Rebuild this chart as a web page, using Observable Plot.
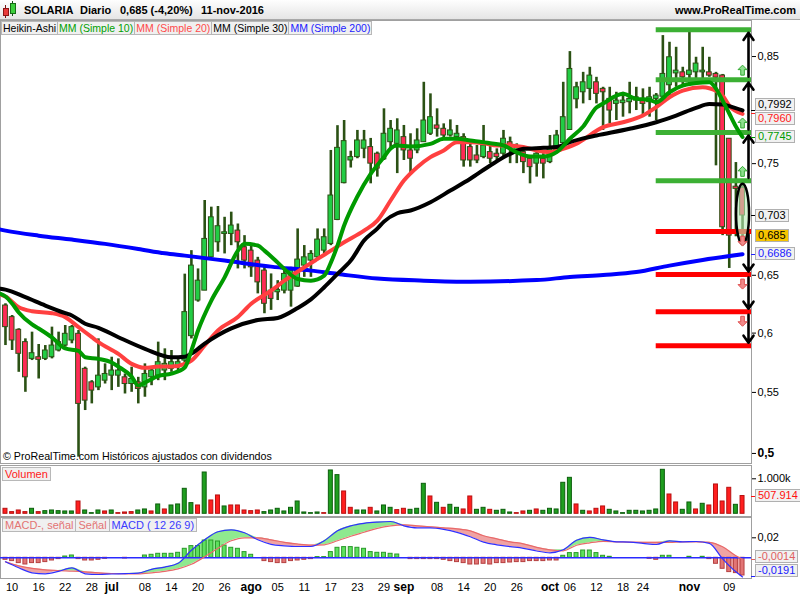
<!DOCTYPE html>
<html>
<head>
<meta charset="utf-8">
<script src="https://cdn.jsdelivr.net/npm/d3@7"></script>
<script src="https://cdn.jsdelivr.net/npm/@observablehq/plot@0.6"></script>
<style>
  html,body{margin:0;padding:0;background:#fff;}
  #wrap{position:relative;width:800px;height:600px;overflow:hidden;background:#fff;font-family:"Liberation Sans",Arial,Helvetica,sans-serif;color:#000;}
  #wrap svg{overflow:visible;}
  .t{position:absolute;white-space:nowrap;font-size:11px;line-height:12px;}
  .box{position:absolute;white-space:nowrap;font-size:11px;line-height:11px;height:11px;padding:0 2px;background:#f1f1f1;border:1px solid #b0b0b0;}
  .dash{position:absolute;height:1px;width:4px;}
  .leg{display:flex;position:absolute;}
  .leg span{font-size:10.5px;line-height:12px;height:12px;padding:0 1px;background:#f0f0f0;border:1px solid #b8b8b8;margin-right:-1px;white-space:nowrap;}
  .leg.big span{font-size:11px;padding:0 2px;}
</style>
</head>
<body>
<div id="wrap"></div>
<script>
// ------------------------------------------------------------------ DATA
// Heikin-Ashi candles, one per trading day (9-jun-2016 .. 11-nov-2016)
const haOpen = [0.6237,0.6137,0.6028,0.5923,0.5781,0.5795,0.5781,0.5795,0.5852,0.5894,
0.5937,0.5994,0.5697,0.5584,0.5542,0.5598,0.5640,0.5640,0.5626,0.5570,
0.5584,0.5542,0.5626,0.5640,0.5683,0.5697,0.5711,0.5767,0.5974,0.6280,
0.6366,0.6658,0.6791,0.6865,0.6865,0.6895,0.6747,0.6717,0.6629,0.6541,
0.6366,0.6352,0.6366,0.6366,0.6401,0.6585,0.6629,0.6658,0.6717,0.6776,
0.6990,0.7322,0.7529,0.7560,0.7637,0.7652,0.7591,0.7540,0.7697,0.7682,
0.7744,0.7621,0.7621,0.7697,0.7775,0.7852,0.7821,0.7759,0.7744,0.7744,
0.7652,0.7575,0.7560,0.7606,0.7591,0.7591,0.7697,0.7606,0.7606,0.7545,
0.7500,0.7545,0.7514,0.7621,0.7690,0.7810,0.8096,0.8162,0.8194,0.8256,
0.8194,0.8100,0.8053,0.8060,0.8069,0.8084,0.8084,0.8069,0.8100,0.8120,
0.8228,0.8340,0.8350,0.8326,0.8350,0.8350,0.8350,0.8335,0.8320,0.7729,
0.7290,0.7280];
const haHigh = [0.6252,0.6151,0.6037,0.5951,0.6008,0.5903,0.5894,0.6051,0.6008,0.6065,
0.6065,0.6022,0.5711,0.5598,0.5951,0.5739,0.5795,0.5781,0.5654,0.5711,
0.5626,0.5739,0.5697,0.5923,0.5866,0.5852,0.5795,0.6510,0.6717,0.6556,
0.7165,0.7105,0.7111,0.7014,0.7060,0.6954,0.6850,0.6762,0.6658,0.6585,
0.6512,0.6453,0.6556,0.6570,0.6910,0.6762,0.6717,0.6910,0.6910,0.7621,
0.7850,0.7898,0.7614,0.7806,0.7806,0.7732,0.7606,0.8007,0.7898,0.7914,
0.7852,0.7775,0.7821,0.8256,0.8147,0.8007,0.7867,0.7904,0.7852,0.7775,
0.7713,0.7667,0.7852,0.7682,0.7636,0.7806,0.7744,0.7682,0.7652,0.7575,
0.7636,0.7591,0.7759,0.7806,0.8256,0.8547,0.8256,0.8350,0.8398,0.8303,
0.8209,0.8209,0.8162,0.8162,0.8256,0.8209,0.8194,0.8209,0.8150,0.8700,
0.8636,0.8588,0.8398,0.8732,0.8493,0.8588,0.8493,0.8350,0.8330,0.7729,
0.7510,0.7330];
const haLow = [0.5894,0.5852,0.5668,0.5501,0.5767,0.5612,0.5767,0.5781,0.5840,0.5880,
0.5909,0.4970,0.5350,0.5405,0.5515,0.5570,0.5515,0.5542,0.5487,0.5501,
0.5405,0.5460,0.5556,0.5598,0.5598,0.5668,0.5683,0.5711,0.5950,0.6266,
0.6366,0.6658,0.6703,0.6688,0.6761,0.6556,0.6556,0.6482,0.6338,0.6166,
0.6195,0.6280,0.6338,0.6223,0.6395,0.6482,0.6482,0.6629,0.6688,0.6761,
0.6984,0.7316,0.7460,0.7545,0.7545,0.7316,0.7377,0.7529,0.7621,0.7409,
0.7529,0.7409,0.7591,0.7697,0.7759,0.7744,0.7729,0.7744,0.7713,0.7468,
0.7468,0.7500,0.7545,0.7500,0.7529,0.7560,0.7500,0.7500,0.7409,0.7316,
0.7377,0.7361,0.7500,0.7591,0.7682,0.7806,0.8007,0.8053,0.8084,0.8053,
0.7806,0.7867,0.7898,0.7929,0.7960,0.7991,0.7944,0.7929,0.7898,0.8115,
0.8115,0.8209,0.8225,0.8225,0.8241,0.8272,0.8303,0.7480,0.6850,0.6560,
0.6840,0.6760];
const haClose = [0.6051,0.5937,0.5824,0.5626,0.5829,0.5773,0.5852,0.5894,0.5923,0.5994,
0.6051,0.5405,0.5432,0.5515,0.5640,0.5654,0.5683,0.5683,0.5570,0.5612,
0.5529,0.5654,0.5683,0.5753,0.5739,0.5753,0.5753,0.6180,0.6585,0.6453,
0.6821,0.7014,0.6934,0.6880,0.6940,0.6791,0.6629,0.6570,0.6438,0.6252,
0.6294,0.6372,0.6512,0.6541,0.6638,0.6658,0.6688,0.6815,0.6836,0.7210,
0.7645,0.7707,0.7560,0.7713,0.7713,0.7500,0.7455,0.7775,0.7821,0.7806,
0.7621,0.7545,0.7713,0.7898,0.7929,0.7821,0.7759,0.7806,0.7775,0.7529,
0.7529,0.7529,0.7667,0.7545,0.7560,0.7729,0.7636,0.7652,0.7514,0.7468,
0.7591,0.7500,0.7652,0.7759,0.7929,0.8382,0.8209,0.8256,0.8319,0.8147,
0.8162,0.7991,0.8084,0.8084,0.8100,0.8115,0.8053,0.8115,0.8131,0.8335,
0.8493,0.8366,0.8303,0.8366,0.8433,0.8366,0.8319,0.8300,0.6925,0.6850,
0.7270,0.7030];

// Volume in thousands of shares, and direction of the day (1 up, 0 down)
const volumeK = [143,48,95,48,143,48,76,95,76,67,
67,352,95,19,95,67,95,19,38,48,
95,124,67,267,124,238,267,714,305,238,
1180,381,524,210,238,238,95,76,95,48,
95,143,67,171,352,38,19,38,19,1238,
1105,638,171,95,95,171,67,238,171,105,
143,114,143,857,495,314,171,257,171,124,
495,114,171,114,86,114,38,19,67,86,
124,86,143,124,886,1028,267,86,67,143,
210,114,67,19,86,86,67,86,124,1257,
552,324,114,324,124,286,238,838,352,743,
257,507.914];
const volumeUp = [0,0,0,0,1,0,1,1,1,1,
1,0,1,1,1,0,1,0,0,0,
1,1,0,1,0,1,1,1,1,0,
1,0,0,1,0,0,0,0,0,1,
1,1,1,1,1,1,1,1,0,1,
1,0,0,1,1,0,1,1,1,0,
0,1,1,1,0,1,0,1,1,0,
0,1,1,0,1,1,1,0,0,1,
0,1,1,1,1,1,0,1,0,0,
0,1,1,1,1,1,1,1,1,1,
0,0,1,1,0,1,0,0,0,0,
1,0];

// Moving averages: [day index, value] (index -0.75 = left edge of the panel)
const ma10 = [[-0.75,0.6338],[0,0.6315],[1,0.6254],[2,0.6177],[4,0.6074],[5,0.6039],[7,0.5963],[9,0.5869],[11,0.5848],[12,0.5795],[14,0.5781],[16,0.5750],[17,0.5716],[19,0.5632],[20,0.5557],[21,0.5582],[23,0.5636],[25,0.5657],[27,0.5708],[28,0.5852],[29,0.6022],[31,0.6280],[33,0.6482],[35,0.6717],[36,0.6777],[38,0.6762],[39,0.6717],[41,0.6611],[42,0.6556],[44,0.6468],[46,0.6453],[48,0.6497],[49,0.6611],[50,0.6762],[51,0.6940],[53,0.7201],[55,0.7407],[57,0.7560],[58,0.7640],[59,0.7667],[61,0.7658],[64,0.7682],[66,0.7729],[68,0.7729],[70,0.7713],[73,0.7688],[75,0.7667],[77,0.7603],[79,0.7566],[81,0.7566],[83,0.7606],[85,0.7729],[87,0.7843],[89,0.8019],[90,0.8056],[93,0.8147],[95,0.8100],[97,0.8091],[98,0.8068],[100,0.8162],[102,0.8225],[105,0.8253],[106,0.8256],[107,0.8197],[108,0.8084],[109,0.7963],[110,0.7843],[111,0.7745]];
const ma20 = [[-0.75,0.6332],[0,0.6315],[2,0.6222],[4,0.6188],[7,0.6171],[9,0.6137],[11,0.6051],[13,0.5965],[14,0.5923],[17,0.5823],[19,0.5739],[21,0.5706],[23,0.5716],[25,0.5716],[27,0.5739],[28,0.5767],[30,0.5894],[32,0.6022],[35,0.6137],[37,0.6252],[40,0.6366],[42,0.6453],[45,0.6570],[47,0.6644],[49,0.6717],[51,0.6791],[54,0.6895],[56,0.6984],[58,0.7165],[60,0.7346],[62,0.7468],[64,0.7560],[66,0.7621],[68,0.7697],[70,0.7697],[72,0.7688],[74,0.7667],[76,0.7667],[78,0.7652],[80,0.7621],[82,0.7606],[84,0.7636],[86,0.7682],[87,0.7720],[90,0.7836],[93,0.7882],[96,0.7944],[98,0.8022],[100,0.8115],[102,0.8178],[105,0.8209],[106,0.8200],[108,0.8131],[109,0.8037],[111,0.7960]];
const ma30 = [[-0.75,0.6382],[0,0.6375],[3,0.6309],[6,0.6237],[9,0.6171],[10,0.6151],[12,0.6080],[14,0.6045],[17,0.5965],[21,0.5866],[25,0.5795],[27,0.5800],[28,0.5826],[30,0.5910],[34,0.6040],[38,0.6112],[41,0.6130],[44,0.6215],[46,0.6290],[48,0.6395],[50,0.6512],[52,0.6629],[54,0.6806],[56,0.6913],[57,0.6975],[59,0.7050],[61,0.7075],[64,0.7150],[67,0.7255],[70,0.7362],[73,0.7483],[76,0.7590],[78,0.7636],[81,0.7645],[83,0.7652],[85,0.7697],[87,0.7732],[89,0.7759],[94,0.7821],[98,0.7882],[101,0.7944],[104,0.8016],[106,0.8051],[108,0.8047],[109,0.8032],[111,0.7992]];
const ma200 = [[-0.75,0.6904],[0,0.6895],[5,0.6850],[10,0.6815],[15,0.6777],[20,0.6732],[24,0.6693],[27,0.6673],[33,0.6629],[40,0.6576],[46,0.6541],[50,0.6512],[56,0.6471],[63,0.6453],[70,0.6444],[80,0.6458],[85,0.6485],[90,0.6503],[95,0.6528],[100,0.6585],[105,0.6635],[111,0.6686]];

// MACD (12 26 9): line and signal at these day indices, histogram per day
const macdIdx = [0,2,4,6,8,10,12,14,16,18,20,22,24,26,28,30,32,34,36,38,40,42,44,46,48,50,52,54,56,58,60,62,64,66,68,70,72,74,76,78,80,82,84,86,88,90,92,94,96,98,100,102,104,106,108,110,111];
const macdVal = [-0.0040,-0.0100,-0.0150,-0.0160,-0.0135,-0.0100,-0.0160,-0.0167,-0.0162,-0.0158,-0.0153,-0.0115,-0.0093,-0.0055,0.0075,0.0180,0.0260,0.0280,0.0250,0.0180,0.0135,0.0120,0.0113,0.0113,0.0170,0.0270,0.0320,0.0345,0.0357,0.0363,0.0320,0.0300,0.0300,0.0285,0.0255,0.0210,0.0157,0.0130,0.0112,0.0095,0.0068,0.0050,0.0080,0.0175,0.0205,0.0180,0.0160,0.0157,0.0145,0.0133,0.0170,0.0160,0.0163,0.0145,-0.0010,-0.0140,-0.0191];
const signalVal = [-0.0040,-0.0080,-0.0105,-0.0120,-0.0128,-0.0133,-0.0140,-0.0150,-0.0157,-0.0160,-0.0160,-0.0150,-0.0135,-0.0110,-0.0065,0.0010,0.0095,0.0170,0.0200,0.0200,0.0180,0.0155,0.0138,0.0127,0.0130,0.0170,0.0215,0.0255,0.0295,0.0320,0.0330,0.0320,0.0310,0.0300,0.0290,0.0270,0.0220,0.0190,0.0160,0.0140,0.0105,0.0080,0.0070,0.0125,0.0150,0.0165,0.0160,0.0157,0.0155,0.0155,0.0155,0.0160,0.0160,0.0155,0.0110,0.0020,-0.0014];
const macdHist = [-0.002,-0.0033,-0.0053,-0.0067,-0.0053,-0.0053,-0.0043,-0.0027,-0.0013,0.0013,
0.0023,-0.0013,-0.0027,-0.0027,-0.002,-0.001,0,0,-0.0007,0,
0,0.0023,0.003,0.004,0.004,0.004,0.005,0.009,0.0117,0.0117,
0.0173,0.0173,0.0163,0.0123,0.010,0.009,0.0057,0.003,0,-0.0033,
-0.0043,-0.0053,-0.0053,-0.0033,-0.0027,-0.002,-0.0013,0.0007,0.0007,0.0057,
0.010,0.0107,0.0107,0.010,0.009,0.0057,0.005,0.005,0.004,0.0033,
0,-0.0013,-0.0013,-0.0013,-0.0013,-0.0013,-0.002,-0.0033,-0.0043,-0.0053,
-0.0067,-0.0067,-0.006,-0.0067,-0.0053,-0.0053,-0.0047,-0.0043,-0.0043,-0.0033,
-0.0033,-0.0033,-0.0027,-0.0027,0.002,0.0047,0.0047,0.0073,0.0073,0.0047,
0.002,0.001,0,0,0,0,0,-0.001,-0.002,0.002,
0.002,0,0,0.001,0,0.001,-0.0013,-0.006,-0.011,-0.0143,
-0.0153,-0.0177];

// Support / resistance levels drawn from this day index onwards
const greenLevels = [0.8755, 0.8281, 0.7787, 0.7343];
const redLevels = [0.6886, 0.6506, 0.6183, 0.5892];
const levelStart = 98;

// Quote
const ticker = "SOLARIA", period = "Diario", lastClose = 0.685, changePct = -4.20, lastDate = "11-nov-2016";

// Axis ticks
const priceTicks = [0.55, 0.6, 0.65, 0.75, 0.85];
const priceTickBold = [0.5];
const volumeTicks = [1000];
const macdTicks = [0.02];
const dayTickIdx = [1,5,9,13,21,25,29,33,41,45,49,53,57,65,69,73,77,85,89,93,96,109];
const dayTickText = ["10","16","22","28","08","14","20","26","05","11","17","23","29","08","14","20","26","06","12","18","24","09"];
const monthTickIdx = [16,37,60,82,103];
const monthTickText = ["jul","ago","sep","oct","nov"];

// ------------------------------------------------------------------ CHART
const wrap = document.getElementById("wrap");
const N = haOpen.length;
const xDomain = [-0.75, N + 0.35];
const xRange = [0, 751];
const FONT = "Liberation Sans, Arial, sans-serif";
const DARK = "#2b5114", UP = "#22cc44", DOWN = "#ff2a55";
const comma = d => String(d).replace(".", ",");
const baseStyle = {background: "transparent", fontFamily: FONT, fontSize: "11px", overflow: "visible"};

const candles = d3.range(N).map(i => ({i, o: haOpen[i], h: haHigh[i], l: haLow[i], c: haClose[i]}));
const last = candles[N - 1];

const upArrowSym = {draw(ctx) {ctx.moveTo(0,-5.5);ctx.lineTo(4.5,-1);ctx.lineTo(1.8,-1);ctx.lineTo(1.8,4.5);ctx.lineTo(-1.8,4.5);ctx.lineTo(-1.8,-1);ctx.lineTo(-4.5,-1);ctx.closePath();}};
const downArrowSym = {draw(ctx) {ctx.moveTo(0,5.5);ctx.lineTo(4.5,1);ctx.lineTo(1.8,1);ctx.lineTo(1.8,-4.5);ctx.lineTo(-1.8,-4.5);ctx.lineTo(-1.8,1);ctx.lineTo(-4.5,1);ctx.closePath();}};
const ellipseSym = {draw(ctx) {
  const rx = 6.5, ry = 30, k = 0.5523;
  ctx.moveTo(rx, 0);
  ctx.bezierCurveTo(rx, ry*k, rx*k, ry, 0, ry);
  ctx.bezierCurveTo(-rx*k, ry, -rx, ry*k, -rx, 0);
  ctx.bezierCurveTo(-rx, -ry*k, -rx*k, -ry, 0, -ry);
  ctx.bezierCurveTo(rx*k, -ry, rx, -ry*k, rx, 0);
  ctx.closePath();
}};

const upPairs = d3.pairs(greenLevels.slice().sort(d3.ascending));
const downPairs = d3.pairs(redLevels.slice().sort(d3.descending));
const xArrow = N - 0.1;
const lineOpts = (stroke) => ({x: d => d[0], y: d => d[1], stroke, strokeWidth: 4, curve: "monotone-x"});
const arrowOpts = {x1: xArrow, x2: xArrow, y1: d => d[0], y2: d => d[1], stroke: "#000", strokeWidth: 2.6, headLength: 5, headAngle: 70, insetStart: 3, insetEnd: 3};

const main = Plot.plot({
  width: 800, height: 444, marginLeft: 0, marginRight: 49, marginTop: 0, marginBottom: 1,
  style: baseStyle,
  x: {domain: xDomain, range: xRange, axis: null},
  y: {type: "pow", exponent: 0.69, domain: [0.4919, 0.8845]},
  marks: [
    Plot.frame({stroke: "#a0a0a0"}),
    Plot.ruleX(candles, {x: "i", y1: "l", y2: "h", stroke: DARK, strokeWidth: 2.6}),
    Plot.rect(candles, {x1: d => d.i - 0.36, x2: d => d.i + 0.36, y1: "o", y2: "c",
      fill: d => d.c >= d.o ? UP : DOWN, stroke: DARK, strokeWidth: 1}),
    Plot.ruleY(greenLevels, {y: d => d, x1: levelStart, x2: xDomain[1], stroke: "#3cb034", strokeWidth: 5}),
    Plot.ruleY(redLevels, {y: d => d, x1: levelStart, x2: xDomain[1], stroke: "#ff0000", strokeWidth: 5}),
    Plot.dot([last], {x: "i", y: d => (d.h + d.l) / 2, symbol: ellipseSym, fill: "#b8ecb8", fillOpacity: 0.6, stroke: "#000", strokeWidth: 2.5}),
    Plot.line(ma200, lineOpts("#0000ff")),
    Plot.line(ma20, lineOpts("#ff4040")),
    Plot.line(ma30, lineOpts("#000000")),
    Plot.line(ma10, lineOpts("#009a00")),
    Plot.arrow(upPairs, arrowOpts),
    Plot.arrow(downPairs, arrowOpts),
    Plot.dot(greenLevels.slice(1), {x: N - 1, y: d => d, dy: -9, symbol: upArrowSym, fill: "#8fe08f", stroke: "#33aa33", strokeWidth: 1}),
    Plot.dot(redLevels.slice(0, 3), {x: N - 1, y: d => d, dy: 9, symbol: downArrowSym, fill: "#f28a8a", stroke: "#e05050", strokeWidth: 1}),
    Plot.axisY(priceTicks, {anchor: "right", tickSize: 4, tickPadding: 2, tickFormat: comma, fontSize: 11, label: null}),
    Plot.axisY(priceTickBold, {anchor: "right", tickSize: 4, tickPadding: 2, tickFormat: comma, fontSize: 12, fontWeight: "bold", label: null})
  ]
});

const vols = volumeK.map((v, i) => ({i, v, up: volumeUp[i] === 1}));
const vol = Plot.plot({
  width: 800, height: 52, marginLeft: 0, marginRight: 49, marginTop: 0, marginBottom: 1,
  style: baseStyle,
  x: {domain: xDomain, range: xRange, axis: null},
  y: {domain: [-77, 1380]},
  marks: [
    Plot.frame({stroke: "#a0a0a0"}),
    Plot.rect(vols, {x1: d => d.i - 0.3, x2: d => d.i + 0.3, y1: 0, y2: "v",
      fill: d => d.up ? "#1f9e1f" : "#ff1f1f", stroke: d => d.up ? "#0c5e0c" : "#b81010", strokeWidth: 1}),
    Plot.axisY(volumeTicks, {anchor: "right", tickSize: 4, tickPadding: 2, tickFormat: d => d3.format(",")(d).replace(",", ".") + "k", fontSize: 11, label: null})
  ]
});

const macdRows = macdIdx.map((i, k) => ({i, m: macdVal[k], s: signalVal[k]}));
const hist = macdHist.map((v, i) => ({i, v})).filter(d => d.v !== 0);
const macdPlot = Plot.plot({
  width: 800, height: 83, marginLeft: 0, marginRight: 49, marginTop: 0, marginBottom: 22,
  style: baseStyle,
  x: {domain: xDomain, range: xRange, axis: null},
  y: {domain: [-0.0207, 0.0403]},
  marks: [
    Plot.frame({stroke: "#a0a0a0"}),
    Plot.areaY(macdRows, {x: "i", y1: "s", y2: d => Math.max(d.m, d.s), fill: "#8fe98f", curve: "monotone-x"}),
    Plot.areaY(macdRows, {x: "i", y1: "s", y2: d => Math.min(d.m, d.s), fill: "#f0a3a3", curve: "monotone-x"}),
    Plot.rect(hist, {x1: d => d.i - 0.3, x2: d => d.i + 0.3, y1: 0, y2: "v",
      fill: d => d.v > 0 ? "#5ee05e" : "#e27575", stroke: d => d.v > 0 ? "#2a9a2a" : "#b54040", strokeWidth: 1}),
    Plot.ruleY([0], {stroke: "#2a2aff", strokeWidth: 1.5}),
    Plot.line(macdRows, {x: "i", y: "s", stroke: "#e86a6a", strokeWidth: 1.2, curve: "monotone-x"}),
    Plot.line(macdRows, {x: "i", y: "m", stroke: "#3030ff", strokeWidth: 1.2, curve: "monotone-x"}),
    Plot.axisY(macdTicks, {anchor: "right", tickSize: 4, tickPadding: 2, tickFormat: comma, fontSize: 11, label: null}),
    Plot.text(dayTickIdx, {x: d => d, text: (d, k) => dayTickText[k], frameAnchor: "bottom", dy: 12, fontSize: 11}),
    Plot.text(monthTickIdx, {x: d => d, text: (d, k) => monthTickText[k], frameAnchor: "bottom", dy: 12, fontSize: 12, fontWeight: "bold"})
  ]
});

function place(svg, top) {
  svg.style.position = "absolute"; svg.style.left = "0px"; svg.style.top = top + "px";
  wrap.appendChild(svg);
}
const MAIN_TOP = 20, VOL_TOP = 465, MACD_TOP = 517;
place(main, MAIN_TOP); place(vol, VOL_TOP); place(macdPlot, MACD_TOP);

// ------------------------------------------------------------------ HTML TEXT & TAGS
function el(tag, cls, css, text) {
  const e = document.createElement(tag);
  if (cls) e.className = cls;
  Object.assign(e.style, css || {});
  if (text != null) e.textContent = text;
  wrap.appendChild(e);
  return e;
}

// header bar
el("div", null, {position: "absolute", left: "0px", top: "0px", width: "800px", height: "19px",
  background: "linear-gradient(#fefefe,#e5e5e5)", borderBottom: "1px solid #a8a8a8"});
// small candle icon
el("div", null, {position: "absolute", left: "5px", top: "5px", width: "1px", height: "13px", background: "#7a1010"});
el("div", null, {position: "absolute", left: "3px", top: "8px", width: "4px", height: "6px", background: "#e83a3a", border: "1px solid #8a1515"});
el("div", null, {position: "absolute", left: "12px", top: "1px", width: "1px", height: "15px", background: "#145214"});
el("div", null, {position: "absolute", left: "10px", top: "3px", width: "4px", height: "9px", background: "#3ccf3c", border: "1px solid #176b17"});
const hdr = {fontWeight: "bold", top: "4px"};
el("div", "t", {...hdr, left: "24px"}, ticker);
el("div", "t", {...hdr, left: "80px"}, period);
el("div", "t", {...hdr, left: "120px"}, comma(lastClose) + " (" + comma(changePct.toFixed(2)) + "%)");
el("div", "t", {...hdr, left: "201px"}, lastDate);
el("div", "t", {...hdr, right: "4px"}, "www.ProRealTime.com");

// indicator legends
const leg1 = el("div", "leg", {left: "1px", top: "21px"});
[["Heikin-Ashi", "#000"], ["MM (Simple 10)", "#00a000"], ["MM (Simple 20)", "#ff4a4a"], ["MM (Simple 30)", "#000"], ["MM (Simple 200)", "#2020ff"]]
  .forEach(([t, c]) => { const s = document.createElement("span"); s.textContent = t; s.style.color = c; leg1.appendChild(s); });
const leg2 = el("div", "leg big", {left: "2px", top: "467px"});
{ const s = document.createElement("span"); s.textContent = "Volumen"; s.style.color = "#ff2020"; leg2.appendChild(s); }
const leg3 = el("div", "leg big", {left: "2px", top: "518px"});
[["MACD-, señal", "#e37474"], ["Señal", "#e37474"], ["MACD ( 12 26 9)", "#3a3aff"]]
  .forEach(([t, c]) => { const s = document.createElement("span"); s.textContent = t; s.style.color = c; leg3.appendChild(s); });

el("div", "t", {left: "3px", top: "450px", fontSize: "10.7px"}, "© ProRealTime.com  Históricos ajustados con dividendos");

// right-hand value tags
function addTags(items, top, scale, lo, hi) {
  items.forEach(d => { d.y0 = top + scale.apply(d.v); d.y = d.y0; });
  const s = items.slice().sort((a, b) => a.y - b.y);
  for (let it = 0; it < 40; it++) {
    for (let j = 1; j < s.length; j++) {
      const gap = s[j].y - s[j - 1].y;
      if (gap < 14) { const m = (14 - gap) / 2; s[j].y += m; s[j - 1].y -= m; }
    }
    s.forEach(d => { d.y = Math.max(lo, Math.min(hi, d.y)); });
  }
  items.forEach(d => {
    if (d.dash) el("div", "dash", {left: "751px", top: Math.round(d.y0) + "px", background: d.dash});
    el("div", "box", {left: "755px", top: Math.round(d.y - 6.5) + "px", color: d.color, background: d.bg || "#f1f1f1"}, d.text);
  });
}
const lastOf = a => a[a.length - 1][1];
addTags([
  {v: lastOf(ma30), text: comma(lastOf(ma30).toFixed(4)), color: "#000", dash: "#000"},
  {v: lastOf(ma20), text: comma(lastOf(ma20).toFixed(4)), color: "#ff2020", dash: "#ff2020"},
  {v: lastOf(ma10), text: comma(lastOf(ma10).toFixed(4)), color: "#009a00", dash: "#009a00"},
  {v: last.c, text: comma(last.c.toFixed(3)), color: "#000", dash: "#000"},
  {v: lastClose, text: comma(lastClose.toFixed(3)), color: "#000", bg: "#f6c400"},
  {v: lastOf(ma200), text: comma(lastOf(ma200).toFixed(4)), color: "#2020ff", dash: "#2020ff"}
], MAIN_TOP, main.scale("y"), MAIN_TOP + 8, 463 - 8);

const lastVol = volumeK[N - 1];
addTags([{v: lastVol, text: lastVol.toFixed(3), color: "#ff1010", dash: "#ff1010"}], VOL_TOP, vol.scale("y"), VOL_TOP + 8, 516 - 8);

addTags([
  {v: signalVal[signalVal.length - 1], text: comma(signalVal[signalVal.length - 1].toFixed(4)), color: "#e06060", dash: "#e06060"},
  {v: macdVal[macdVal.length - 1], text: comma(macdVal[macdVal.length - 1].toFixed(4)), color: "#2020ff", dash: "#2020ff"}
], MACD_TOP, macdPlot.scale("y"), MACD_TOP + 8, 578 - 8);
</script>
</body>
</html>
